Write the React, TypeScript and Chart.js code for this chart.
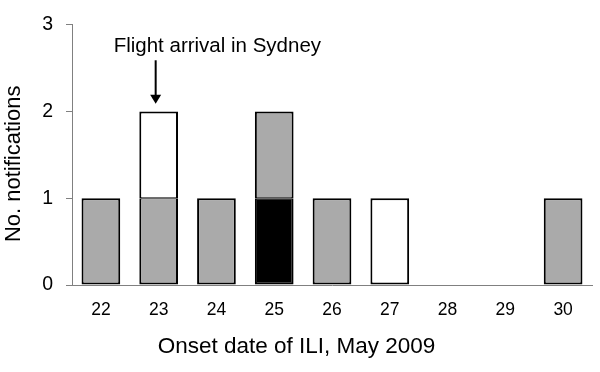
import React, { useEffect, useRef } from "react";
import { Chart, registerables } from "chart.js";

Chart.register(...registerables);

const categories = ["22", "23", "24", "25", "26", "27", "28", "29", "30"];
const blackSeries = [null, null, null, 1, null, null, null, null, null];
const graySeries = [1, 1, 1, 1, 1, null, null, null, 1];
const whiteSeries = [null, 1, null, null, null, 1, null, null, null];
const yMin = 0;
const yMax = 3;
const xTitle = "Onset date of ILI, May 2009";
const yTitle = "No. notifications";
const noteText = "Flight arrival in Sydney";
const noteCategory = "23";

const FONT = "'Liberation Sans', Arial, sans-serif";
const stackOrder = [blackSeries, graySeries, whiteSeries];

const notePlugin = {
  id: "flightNote",
  afterDraw(chart: any) {
    const { ctx, scales, chartArea } = chart;
    const x = scales.x;
    const y = scales.y;
    const px = x.getPixelForValue(categories.indexOf(noteCategory)) - 3;
    const yStart = y.getPixelForValue(2.59);
    const yTip = y.getPixelForValue(2.09);
    ctx.save();
    ctx.strokeStyle = "#000";
    ctx.fillStyle = "#000";
    ctx.lineWidth = 2;
    ctx.beginPath();
    ctx.moveTo(px, yStart);
    ctx.lineTo(px, yTip - 8);
    ctx.stroke();
    ctx.beginPath();
    ctx.moveTo(px - 5.5, yTip - 9);
    ctx.lineTo(px + 5.5, yTip - 9);
    ctx.lineTo(px, yTip);
    ctx.closePath();
    ctx.fill();
    ctx.font = `20.5px ${FONT}`;
    ctx.textAlign = "left";
    ctx.textBaseline = "alphabetic";
    ctx.fillText(noteText, px - 42, y.getPixelForValue(2.68));
    // x axis title
    ctx.font = `22.5px ${FONT}`;
    ctx.textAlign = "center";
    ctx.textBaseline = "alphabetic";
    ctx.fillText(xTitle, chart.width / 2 - 3.5, chart.height - 19);
    // y axis title
    ctx.font = `22px ${FONT}`;
    ctx.textAlign = "center";
    ctx.textBaseline = "middle";
    ctx.translate(14, (chartArea.top + chartArea.bottom) / 2 + 9);
    ctx.rotate(-Math.PI / 2);
    ctx.fillText(yTitle, 0, 0);
    ctx.restore();
  },
};

function borderFor(ctx: any) {
  const di = ctx.datasetIndex;
  const i = ctx.dataIndex;
  let below = false;
  let above = false;
  for (let k = 0; k < stackOrder.length; k++) {
    if (stackOrder[k][i] == null) continue;
    if (k < di) below = true;
    if (k > di) above = true;
  }
  return { left: 2, right: 2, top: above ? 1 : 2, bottom: below ? 1 : 2 };
}

export default function App() {
  const ref = useRef<HTMLCanvasElement>(null);
  useEffect(() => {
    document.body.style.margin = "0";
    const common = {
      borderColor: "#000",
      borderWidth: borderFor,
      borderSkipped: false,
      barPercentage: 0.67,
      categoryPercentage: 1,
    };
    const chart = new Chart(ref.current!, {
      type: "bar",
      data: {
        labels: categories,
        datasets: [
          { label: "black", data: blackSeries, backgroundColor: "#000", ...common },
          { label: "gray", data: graySeries, backgroundColor: "#aaaaaa", ...common },
          { label: "white", data: whiteSeries, backgroundColor: "#fff", ...common },
        ] as any,
      },
      options: {
        responsive: false,
        animation: false,
        events: [],
        layout: { padding: { top: 24, right: 8, left: 0, bottom: 0 } },
        plugins: { legend: { display: false }, tooltip: { enabled: false } },
        scales: {
          x: {
            stacked: true,
            grid: { display: false, drawTicks: false },
            border: { display: true, color: "#808080", width: 1 },
            ticks: { color: "#000", font: { family: FONT, size: 17.5 }, padding: 15, maxRotation: 0 },
            afterFit: (s: any) => {
              s.height = 87;
            },
          },
          y: {
            stacked: true,
            min: yMin,
            max: yMax,
            grid: { drawOnChartArea: false, drawTicks: true, tickLength: 6, color: "#808080" },
            border: { display: true, color: "#808080", width: 1 },
            ticks: { stepSize: 1, color: "#000", font: { family: FONT, size: 19.5 }, padding: 13 },
            afterFit: (s: any) => {
              s.width = 72;
            },
          },
        },
      },
      plugins: [notePlugin],
    });
    return () => chart.destroy();
  }, []);
  return <canvas ref={ref} width={600} height={372} style={{ display: "block" }} />;
}
